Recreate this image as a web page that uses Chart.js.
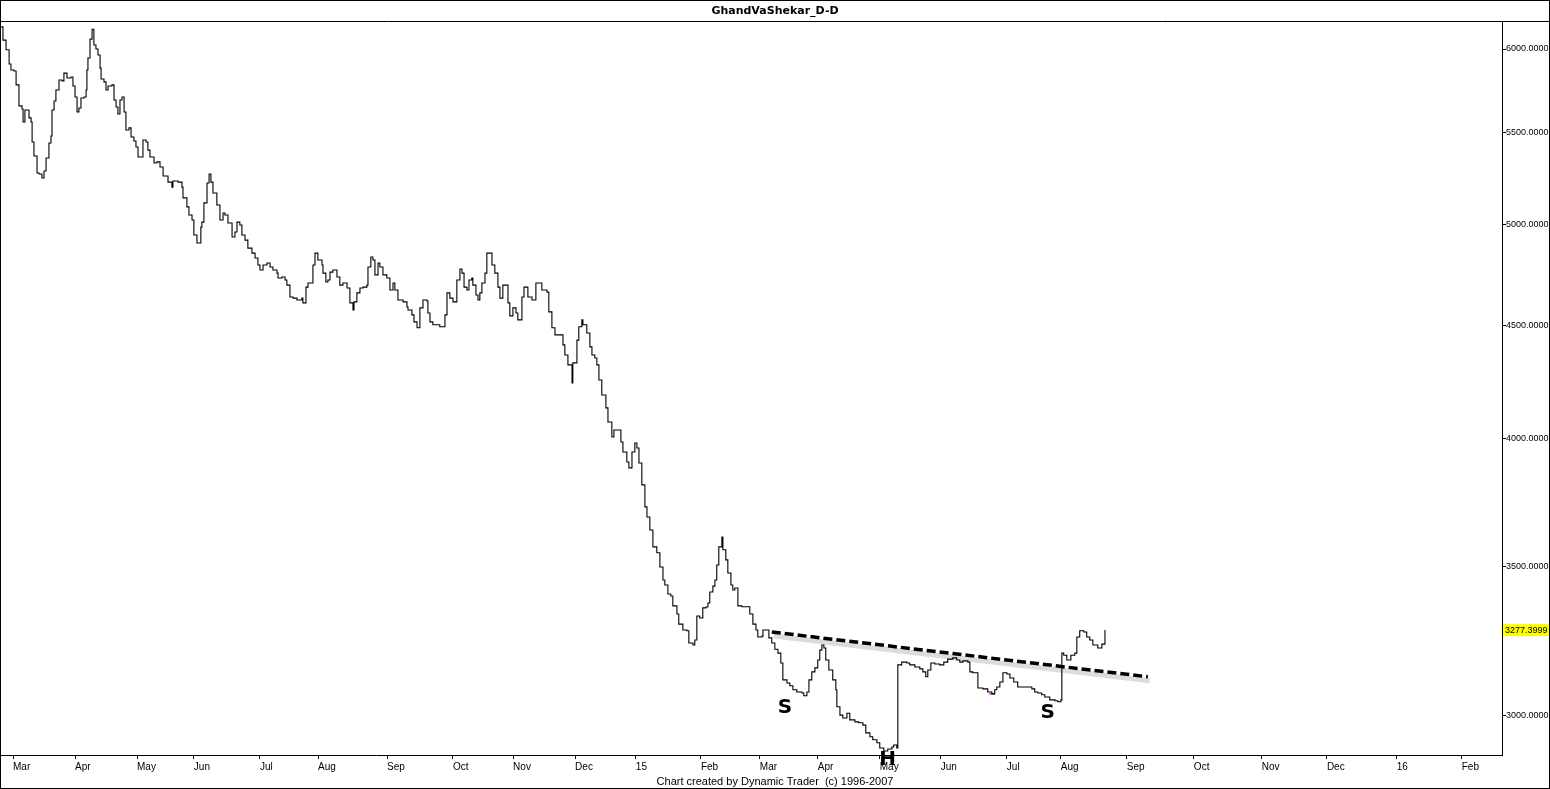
<!DOCTYPE html>
<html>
<head>
<meta charset="utf-8">
<title>GhandVaShekar_D-D</title>
<script src="https://cdn.jsdelivr.net/npm/chart.js@4.4.1/dist/chart.umd.min.js"></script>
<style>
  html, body { margin: 0; padding: 0; background: #fff; }
  #wrap { width: 1550px; height: 789px; }
</style>
</head>
<body>
<div id="wrap"><canvas id="chart" width="1550" height="789"></canvas></div>
<script>
// daily price chart
// x = bar position in days from 1 Mar 2014, y = close

const barDay = [
  -5.8, -4.9, -3.4, -1.9, -1, 0.5, 1.5, 2.9, 4.4, 4.9,
  5.8, 7.3, 7.8, 8.8, 9.3, 10.2, 11.7, 12.7, 14.1, 15.1,
  16.1, 17.5, 18.5, 19.0, 20.0, 20.9, 22.4, 23.9, 24.8, 26.3,
  27.8, 28.2, 29.2, 30.2, 31.2, 32.1, 33.1, 34.6, 35.6, 36.0,
  36.5, 37.5, 38.5, 39.4, 40.4, 41.4, 42.4, 42.9, 44.3, 45.3,
  46.3, 48.2, 49.2, 50.2, 51.1, 52.1, 53.1, 54.1, 55.0, 56.5,
  57.5, 58.9, 59.9, 60.9, 63.3, 64.8, 65.7, 66.7, 68.7, 70.1,
  71.6, 73.1, 75.5, 77.4, 77.9, 80.4, 82.3, 82.8, 84.7, 85.7,
  87.2, 88.1, 89.6, 91.1, 91.5, 92.0, 93.0, 94.5, 95.5, 96.4,
  97.4, 99.3, 100.8, 102.3, 103.2, 104.7, 106.7, 108.1, 109.1, 110.5,
  111.5, 113.0, 114.4, 116.4, 117.9, 119.3, 120.3, 121.8, 123.7, 125.2,
  126.6, 128.6, 129.1, 131.0, 132.5, 133.4, 134.9, 136.4, 138.3, 140.7,
  141.2, 142.7, 143.7, 145.6, 146.1, 147.1, 148.5, 150.5, 151.0, 152.4,
  153.4, 154.4, 155.8, 157.8, 159.2, 160.7, 162.7, 164.1, 165.6, 166.1,
  167.5, 169.0, 170.5, 172.4, 172.9, 174.3, 175.3, 176.3, 177.8, 178.7,
  180.2, 182.1, 183.6, 185.1, 186.0, 187.5, 190.0, 191.9, 192.4, 194.3,
  195.3, 196.8, 198.2, 199.7, 201.6, 202.1, 203.1, 204.5, 207.9, 209.4,
  210.4, 211.4, 212.8, 214.3, 216.2, 217.7, 218.7, 219.7, 221.1, 222.1,
  223.5, 224.0, 225.5, 226.5, 227.4, 228.4, 229.9, 230.8, 232.3, 233.3,
  234.7, 236.2, 237.2, 238.6, 240.1, 241.1, 242.0, 243.5, 245.0, 245.9,
  247.9, 248.9, 250.3, 250.8, 252.8, 254.7, 256.2, 257.6, 260.1, 261.0,
  262.5, 264.0, 266.4, 267.9, 268.8, 270.3, 272.3, 272.7, 274.7, 275.6,
  277.1, 277.6, 279.5, 281.0, 282.0, 283.4, 284.4, 285.4, 286.8, 288.8,
  289.8, 291.7, 292.7, 294.6, 296.1, 297.1, 299.0, 300.0, 301.5, 302.9,
  303.9, 304.9, 306.3, 307.8, 308.8, 310.2, 311.7, 313.6, 315.1, 316.6,
  317.5, 319.0, 320.4, 321.4, 323.4, 324.3, 326.3, 328.2, 329.2, 331.2,
  332.1, 333.1, 334.5, 336.0, 337.5, 338.5, 339.4, 340.9, 341.9, 342.8,
  343.8, 345.3, 345.8, 347.2, 348.2, 349.7, 350.6, 351.6, 353.1, 355.0,
  358.9, 360.4, 361.9, 362.8, 364.8, 365.3, 367.2, 368.2, 369.6, 371.1,
  372.6, 374.0, 375.0, 377.0, 378.4, 379.9, 381.8, 384.3, 385.2, 386.7,
  387.7, 389.1, 390.6, 392.0, 393.0, 394.0, 395.0, 395.9, 397.4, 399.3,
  400.8, 401.3, 402.8, 404.2, 406.2, 407.6, 410.1, 412.0, 414.0, 415.4,
  417.4, 418.8, 420.8, 422.2, 424.2, 426.1, 428.1, 429.0, 430.5, 431.0,
  432.9, 435.4, 436.8, 439.3, 441.7, 443.2, 444.6, 445.6, 447.1, 449.0,
  451.4, 453.4, 455.3, 457.8, 459.7, 461.2, 462.7, 465.1, 466.1, 467.5,
  469.5, 470.0, 472.4, 474.8, 476.8, 478.2, 479.2, 480.7, 482.2, 484.1,
  485.6, 487.5, 489.4, 491.9, 494.3, 496.3, 497.7, 499.2, 501.1, 502.6,
  505.0, 507.5, 508.9, 510.4, 510.9, 511.8, 513.3, 515.3, 517.2, 518.2,
  519.6, 521.6, 523.0, 524.5, 526.0, 528.4, 530.4, 531.9
];

const barClose = [
  6140, 6056, 5995, 5907, 5870, 5864, 5780, 5655, 5637, 5561,
  5631, 5631, 5585, 5561, 5447, 5368, 5274, 5268, 5246, 5285,
  5357, 5441, 5481, 5631, 5684, 5749, 5810, 5804, 5851, 5822,
  5822, 5828, 5773, 5708, 5619, 5643, 5702, 5708, 5749, 5870,
  5944, 6062, 6125, 6025, 6000, 5963, 5882, 5816, 5798, 5749,
  5773, 5780, 5690, 5649, 5608, 5690, 5708, 5619, 5515, 5527,
  5475, 5452, 5418, 5362, 5458, 5447, 5401, 5362, 5329, 5335,
  5307, 5257, 5224, 5197, 5230, 5224, 5197, 5139, 5091, 5048,
  5022, 4944, 4903, 4903, 4985, 5011, 5112, 5219, 5268, 5224,
  5165, 5101, 5022, 5059, 5048, 5006, 4934, 4960, 5011, 4996,
  4944, 4918, 4877, 4852, 4827, 4792, 4767, 4792, 4802, 4782,
  4767, 4752, 4728, 4733, 4718, 4693, 4635, 4630, 4621, 4630,
  4607, 4683, 4703, 4703, 4792, 4852, 4817, 4792, 4752, 4708,
  4718, 4757, 4767, 4733, 4693, 4703, 4679, 4607, 4573, 4612,
  4655, 4679, 4683, 4693, 4782, 4832, 4817, 4743, 4802, 4782,
  4743, 4728, 4669, 4703, 4669, 4621, 4612, 4587, 4573, 4550,
  4517, 4489, 4583, 4621, 4616, 4559, 4517, 4503, 4494, 4494,
  4550, 4655, 4630, 4612, 4718, 4772, 4752, 4683, 4669, 4718,
  4728, 4693, 4645, 4621, 4655, 4703, 4752, 4852, 4852, 4792,
  4752, 4683, 4630, 4693, 4693, 4607, 4545, 4583, 4559, 4526,
  4635, 4683, 4683, 4635, 4621, 4703, 4703, 4669, 4659, 4564,
  4489, 4456, 4456, 4410, 4364, 4319, 4239, 4328, 4432, 4494,
  4526, 4503, 4465, 4401, 4364, 4350, 4319, 4252, 4186, 4130,
  4070, 4007, 4036, 4036, 3986, 3945, 3904, 3880, 3945, 3982,
  3961, 3900, 3812, 3726, 3687, 3637, 3574, 3552, 3500, 3453,
  3435, 3403, 3396, 3361, 3333, 3298, 3278, 3275, 3234, 3227,
  3244, 3326, 3319, 3354, 3357, 3371, 3410, 3431, 3453, 3507,
  3574, 3611, 3563, 3526, 3478, 3435, 3417, 3424, 3361, 3358,
  3333, 3298, 3278, 3254, 3257, 3278, 3278, 3251, 3234, 3213,
  3200, 3167, 3112, 3102, 3093, 3080, 3073, 3070, 3061, 3073,
  3112, 3138, 3151, 3177, 3210, 3227, 3217, 3177, 3144, 3112,
  3080, 3026, 3000, 2991, 3006, 2985, 2979, 2976, 2969, 2945,
  2933, 2924, 2915, 2899, 2890, 2896, 2902, 2908, 2899, 3161,
  3170, 3167, 3161, 3154, 3148, 3138, 3122, 3144, 3167, 3164,
  3161, 3170, 3180, 3184, 3177, 3170, 3174, 3170, 3138, 3135,
  3135, 3086, 3083, 3073, 3067, 3080, 3089, 3105, 3135, 3131,
  3118, 3105, 3089, 3089, 3089, 3083, 3073, 3070, 3064, 3057,
  3048, 3045, 3042, 3048, 3200, 3193, 3177, 3193, 3200, 3254,
  3275, 3271, 3254, 3244, 3227, 3217, 3230, 3277.3999
];

// month ticks (as placed on the trading-day axis of the original)
const monthTickDay = [0, 30.2, 60.4, 88.1, 120.3, 148.6, 182.2, 214.3, 243.6, 273.8, 303.4, 335.1,
                      363.8, 392.0, 422.2, 451.9, 484.1, 510.4, 542.5, 575.2, 608.3, 640.0, 674.0, 705.7];
const monthTickLabel = ["Mar", "Apr", "May", "Jun", "Jul", "Aug", "Sep", "Oct", "Nov", "Dec", "15", "Feb",
                        "Mar", "Apr", "May", "Jun", "Jul", "Aug", "Sep", "Oct", "Nov", "Dec", "16", "Feb"];

const priceTicks = [3000, 3500, 4000, 4500, 5000, 5500, 6000];

// neckline of the head & shoulders
const trendDay = [369.6, 552.8];
const trendPrice = [3271, 3122];

// small magenta mark near the right shoulder
const markDay = [475.5, 478.2];
const markPrice = [3067, 3067];

// pattern letters
const patternText = ["S", "H", "S"];
const patternDay = [376, 426, 504];
const patternPrice = [3022, 2864, 3006];

const lastPriceText = "3277.3999";

// ---- plugin: frame, title, footer, letters, price tag ----
const decor = {
  id: "decor",
  beforeDraw(chart) {
    const ctx = chart.ctx;
    ctx.save();
    ctx.fillStyle = "#fff";
    ctx.fillRect(0, 0, chart.width, chart.height);
    ctx.restore();
  },
  beforeDatasetDraw(chart, args) {
    // soft grey shadow band under the dashed neckline
    if (args.index !== 1) return;
    const pts = chart.getDatasetMeta(1).data;
    const ctx = chart.ctx;
    ctx.save();
    ctx.strokeStyle = "rgba(200,208,200,0.7)";
    ctx.lineWidth = 5;
    ctx.beginPath();
    ctx.moveTo(pts[0].x + 2, pts[0].y + 4);
    ctx.lineTo(pts[1].x + 2, pts[1].y + 4);
    ctx.stroke();
    ctx.restore();
  },
  afterDraw(chart) {
    const ctx = chart.ctx;
    const xs = chart.scales.x, ys = chart.scales.y;
    ctx.save();

    // outer frame + title rule
    ctx.strokeStyle = "#000";
    ctx.lineWidth = 1;
    ctx.strokeRect(0.5, 0.5, chart.width - 1, chart.height - 1);
    ctx.beginPath();
    ctx.moveTo(0, 21.5);
    ctx.lineTo(chart.width, 21.5);
    ctx.stroke();

    // title
    ctx.fillStyle = "#000";
    ctx.textAlign = "center";
    ctx.textBaseline = "middle";
    ctx.font = "bold 11px 'DejaVu Sans'";
    ctx.fillText("GhandVaShekar_D-D", 775, 11);

    // footer
    ctx.font = "11px 'Liberation Sans'";
    ctx.fillText("Chart created by Dynamic Trader  (c) 1996-2007", 775, 782);

    // last price tag
    const py = ys.getPixelForValue(barClose[barClose.length - 1]);
    ctx.fillStyle = "#ffff00";
    ctx.fillRect(xs.right + 1, py - 6, 46, 12);
    ctx.fillStyle = "#000";
    ctx.textAlign = "left";
    ctx.font = "9px 'Liberation Sans'";
    ctx.fillText(lastPriceText, xs.right + 3, py + 0.5);

    // S H S letters
    ctx.textAlign = "center";
    ctx.font = "bold 20px 'DejaVu Sans'";
    for (let i = 0; i < patternText.length; i++) {
      ctx.fillText(patternText[i], xs.getPixelForValue(patternDay[i]), ys.getPixelForValue(patternPrice[i]));
    }
    ctx.restore();
  }
};

new Chart(document.getElementById("chart"), {
  type: "line",
  data: {
    datasets: [
      {
        data: barDay.map((d, i) => ({ x: d, y: barClose[i] })),
        borderColor: "#000",
        borderWidth: 1.1,
        stepped: true,
        pointRadius: 0,
        fill: false
      },
      {
        data: trendDay.map((d, i) => ({ x: d, y: trendPrice[i] })),
        borderColor: "#000",
        borderWidth: 3.5,
        borderDash: [9, 4],
        pointRadius: 0,
        fill: false
      },
      {
        data: markDay.map((d, i) => ({ x: d, y: markPrice[i] })),
        borderColor: "#ff00ff",
        borderWidth: 1.3,
        pointRadius: 0,
        fill: false
      }
    ]
  },
  options: {
    responsive: false,
    devicePixelRatio: 1,
    animation: false,
    layout: { padding: { top: 22, left: 1, right: 0, bottom: 0 } },
    plugins: { legend: { display: false }, title: { display: false }, tooltip: { enabled: false } },
    scales: {
      x: {
        type: "linear",
        min: -5.85,
        max: 725.3,
        afterBuildTicks: (s) => { s.ticks = monthTickDay.map(v => ({ value: v })); },
        afterFit: (s) => { s.height = 34; },
        grid: { drawOnChartArea: false, drawTicks: true, tickLength: 4, color: "#000" },
        border: { display: true, color: "#000", width: 1 },
        ticks: {
          autoSkip: false,
          maxRotation: 0,
          align: "start",
          padding: 2,
          color: "#000",
          font: { family: "'Liberation Sans'", size: 10 },
          callback: (v, i) => monthTickLabel[i]
        }
      },
      y: {
        type: "logarithmic",
        position: "right",
        min: 2878,
        max: 6171,
        afterBuildTicks: (s) => { s.ticks = priceTicks.map(v => ({ value: v })); },
        afterFit: (s) => { s.width = 48; },
        grid: { drawOnChartArea: false, drawTicks: true, tickLength: 4, color: "#000" },
        border: { display: true, color: "#000", width: 1 },
        ticks: {
          padding: 0,
          color: "#000",
          font: { family: "'Liberation Sans'", size: 9 },
          callback: (v) => Number(v).toFixed(4)
        }
      }
    }
  },
  plugins: [decor]
});
</script>
</body>
</html>
